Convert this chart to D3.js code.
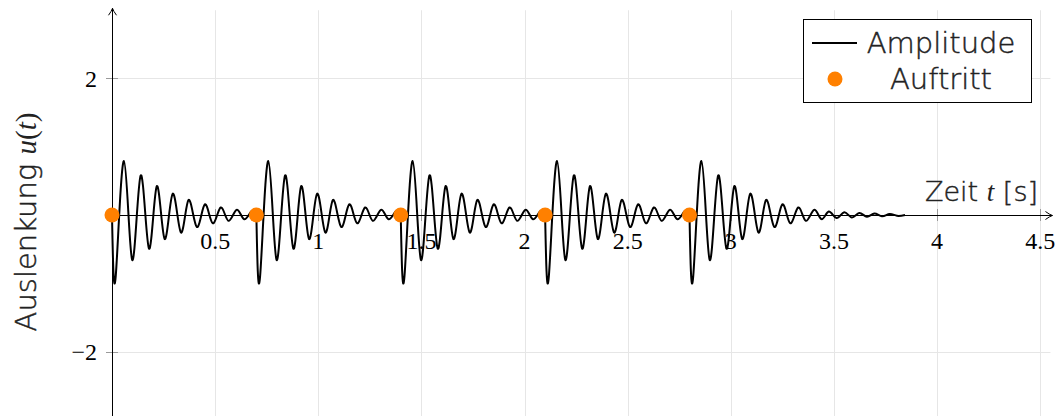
<!DOCTYPE html>
<html>
<head>
<meta charset="utf-8">
<script src="https://cdn.jsdelivr.net/npm/d3@7"></script>
<style>
  html, body { margin: 0; padding: 0; background: #fff; }
  .sans { font-family: "DejaVu Sans", "Open Sans", sans-serif; font-weight: 200; stroke: #222; stroke-width: 0.45px; }
  .math { font-family: "Liberation Serif", "DejaVu Serif", serif; font-weight: 400; }
</style>
</head>
<body>
<div id="chart"></div>
<script>
// impact times (orange dots), all sit on the zero line
const impacts = [0, 0.7, 1.4, 2.1, 2.8];
const impactU = [0, 0, 0, 0, 0];

// one burst: time after impact [s] of each extremum and its displacement
const burstLag = [0, 0.018, 0.058, 0.098, 0.139, 0.179, 0.217, 0.255, 0.294, 0.334,
  0.371, 0.411, 0.450, 0.488, 0.527, 0.564, 0.604, 0.640, 0.675];
const burstU = [0, -0.90, 0.79, -0.66, 0.58, -0.49, 0.42, -0.35, 0.31, -0.255,
  0.22, -0.175, 0.155, -0.12, 0.11, -0.085, 0.075, -0.06, 0.05];

// the last burst keeps ringing until the end of the record
const tailLag = [0.713, 0.750, 0.787, 0.823, 0.860, 0.896, 0.933, 0.970, 1.006, 1.045];
const tailU = [-0.045, 0.04, -0.035, 0.03, -0.025, 0.022, -0.018, 0.015, -0.012, 0];

const xTicks = [0.5, 1, 1.5, 2, 2.5, 3, 3.5, 4, 4.5];
const yTicks = [-2, 2];

const width = 1063, height = 416;
const orange = '#ff8000';

const x = d3.scaleLinear().domain([0, 4.55]).range([112, 112 + 206.25 * 4.55]);
const y = d3.scaleLinear().domain([-3, 3]).range([215 + 68.25 * 3, 215 - 68.25 * 3]);

const svg = d3.select('#chart')
  .append('svg')
  .attr('width', width)
  .attr('height', height)
  .style('display', 'block');

// grid
const grid = svg.append('g').attr('stroke', '#e6e6e6').attr('stroke-width', 1);
grid.selectAll('line.v')
  .data(xTicks)
  .enter().append('line')
  .attr('x1', d => Math.round(x(d)) + 0.5).attr('x2', d => Math.round(x(d)) + 0.5)
  .attr('y1', y(3)).attr('y2', height);
grid.selectAll('line.h')
  .data(yTicks)
  .enter().append('line')
  .attr('y1', d => Math.round(y(d)) + 0.5).attr('y2', d => Math.round(y(d)) + 0.5)
  .attr('x1', x(0)).attr('x2', x(4.55));

// tick marks
const ticks = svg.append('g').attr('stroke', '#9a9a9a').attr('stroke-width', 1);
ticks.selectAll('line.xt')
  .data(xTicks)
  .enter().append('line')
  .attr('x1', d => Math.round(x(d)) + 0.5).attr('x2', d => Math.round(x(d)) + 0.5)
  .attr('y1', y(0) - 6).attr('y2', y(0) + 6);
ticks.selectAll('line.yt')
  .data(yTicks)
  .enter().append('line')
  .attr('y1', d => Math.round(y(d)) + 0.5).attr('y2', d => Math.round(y(d)) + 0.5)
  .attr('x1', x(0) - 6).attr('x2', x(0) + 6);

// axes with arrow tips
const axes = svg.append('g').attr('stroke', '#000').attr('stroke-width', 1).attr('fill', 'none');
const x0 = Math.round(x(0)) + 0.5, y0 = Math.round(y(0)) + 0.5;
const xEnd = x(4.55) + 2, yEnd = y(3) - 2;
axes.append('line').attr('x1', x0).attr('x2', xEnd).attr('y1', y0).attr('y2', y0);
axes.append('line').attr('x1', x0).attr('x2', x0).attr('y1', height).attr('y2', yEnd);
axes.append('path')
  .attr('d', `M${xEnd - 7},${y0 - 4} Q${xEnd - 3},${y0 - 1} ${xEnd},${y0} Q${xEnd - 3},${y0 + 1} ${xEnd - 7},${y0 + 4}`);
axes.append('path')
  .attr('d', `M${x0 - 4},${yEnd + 7} Q${x0 - 1},${yEnd + 3} ${x0},${yEnd} Q${x0 + 1},${yEnd + 3} ${x0 + 4},${yEnd + 7}`);

// tick labels
svg.append('g').attr('class', 'math').attr('font-size', 24).attr('text-anchor', 'middle')
  .selectAll('text')
  .data(xTicks)
  .enter().append('text')
  .attr('x', d => x(d))
  .attr('y', 249)
  .text(d => d);
svg.append('g').attr('class', 'math').attr('font-size', 24).attr('text-anchor', 'end')
  .selectAll('text')
  .data(yTicks)
  .enter().append('text')
  .attr('x', 97)
  .attr('y', d => y(d) + 8)
  .text(d => d < 0 ? '\u2212' + Math.abs(d) : d);

// signal, one path per burst so the kink at each impact stays
const line = d3.line()
  .x(d => x(d[0]))
  .y(d => y(d[1]))
  .curve(d3.curveNatural);

const bursts = impacts.map((t0, i) => {
  const pts = burstLag.map((lag, j) => [t0 + lag, burstU[j]]);
  if (i < impacts.length - 1) {
    pts.push([impacts[i + 1], impactU[i + 1]]);
  } else {
    tailLag.forEach((lag, j) => pts.push([t0 + lag, tailU[j]]));
  }
  return pts;
});

svg.append('g')
  .selectAll('path')
  .data(bursts)
  .enter().append('path')
  .attr('d', line)
  .attr('fill', 'none')
  .attr('stroke', '#000')
  .attr('stroke-width', 2)
  .attr('stroke-linejoin', 'round');

// impacts
svg.append('g')
  .selectAll('circle')
  .data(impacts)
  .enter().append('circle')
  .attr('cx', d => x(d))
  .attr('cy', (d, i) => y(impactU[i]))
  .attr('r', 7.5)
  .attr('fill', orange);

// axis titles
const xt = svg.append('text')
  .attr('x', 1038)
  .attr('y', 201)
  .attr('text-anchor', 'end')
  .attr('font-size', 27)
  .attr('fill', '#222');
xt.append('tspan').attr('class', 'sans').text('Zeit ');
xt.append('tspan').attr('class', 'math').attr('font-style', 'italic').text('t');
xt.append('tspan').attr('class', 'sans').text(' [s]');

const yt = svg.append('text')
  .attr('transform', 'translate(36,222) rotate(-90)')
  .attr('text-anchor', 'middle')
  .attr('font-size', 29)
  .attr('fill', '#222');
yt.append('tspan').attr('class', 'sans').text('Auslenkung ');
yt.append('tspan').attr('class', 'math').attr('font-style', 'italic').text('u');
yt.append('tspan').attr('class', 'math').text('(');
yt.append('tspan').attr('class', 'math').attr('font-style', 'italic').text('t');
yt.append('tspan').attr('class', 'math').text(')');

// legend
const legend = svg.append('g');
legend.append('rect')
  .attr('x', 803.5).attr('y', 19.5)
  .attr('width', 228).attr('height', 83)
  .attr('fill', '#fff').attr('stroke', '#000').attr('stroke-width', 1);
legend.append('line')
  .attr('x1', 812).attr('x2', 857).attr('y1', 43).attr('y2', 43)
  .attr('stroke', '#000').attr('stroke-width', 2);
legend.append('circle')
  .attr('cx', 835).attr('cy', 79).attr('r', 7.5).attr('fill', orange);
legend.selectAll('text')
  .data(['Amplitude', 'Auftritt'])
  .enter().append('text')
  .attr('class', 'sans')
  .attr('x', 941)
  .attr('y', (d, i) => 53 + i * 36)
  .attr('text-anchor', 'middle')
  .attr('font-size', 29)
  .attr('fill', '#222')
  .text(d => d);
</script>
</body>
</html>
